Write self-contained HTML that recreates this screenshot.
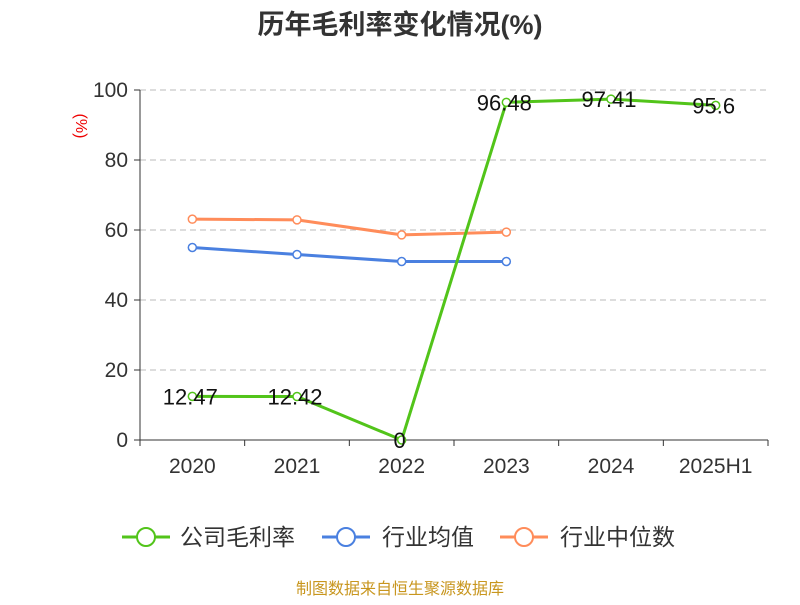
<!DOCTYPE html>
<html><head><meta charset="utf-8"><style>
body{margin:0;background:#fff;font-family:"Liberation Sans","Noto Sans CJK SC",sans-serif;}
</style></head><body>
<svg id="chart" width="800" height="600" xmlns="http://www.w3.org/2000/svg" font-family="Liberation Sans, Noto Sans CJK SC, sans-serif">
<text x="400" y="34" text-anchor="middle" font-size="27" font-weight="bold" fill="#333">历年毛利率变化情况(%)</text>
<text x="76" y="126" font-size="16" fill="#e00" transform="rotate(90 76 126)" text-anchor="middle">(%)</text>
<g id="grid"></g><g id="axes"></g><g id="series"></g>
<g>
<g><line x1="122" y1="537" x2="170" y2="537" stroke="#52c41a" stroke-width="3"/><circle cx="146" cy="537" r="9" fill="#fff" stroke="#52c41a" stroke-width="2"/><text x="180" y="545" font-size="23" fill="#333">公司毛利率</text></g>
<g><line x1="322" y1="537" x2="370" y2="537" stroke="#4a80e0" stroke-width="3"/><circle cx="346" cy="537" r="9" fill="#fff" stroke="#4a80e0" stroke-width="2"/><text x="382" y="545" font-size="23" fill="#333">行业均值</text></g>
<g><line x1="500" y1="537" x2="548" y2="537" stroke="#ff8c5a" stroke-width="3"/><circle cx="524" cy="537" r="9" fill="#fff" stroke="#ff8c5a" stroke-width="2"/><text x="560" y="545" font-size="23" fill="#333">行业中位数</text></g>
</g>
<text x="400" y="594" text-anchor="middle" font-size="16" fill="#c8961e">制图数据来自恒生聚源数据库</text>
</svg>
<script>
const categories=["2020","2021","2022","2023","2024","2025H1"];
const company=[12.47,12.42,0,96.48,97.41,95.6];
const companyLabels=["12.47","12.42","0","96.48","97.41","95.6"];
const industryAvg=[55,53,51,51];
const industryMedian=[63.1,62.9,58.6,59.4];
const yTicks=[0,20,40,60,80,100];
const NS="http://www.w3.org/2000/svg";
const x0=140,x1=768,yb=440,yt=90;
const bw=(x1-x0)/categories.length;
const xs=i=>x0+bw*(i+0.5);
const ys=v=>yb-(v/100)*(yb-yt);
function mk(tag,attrs,parent){const e=document.createElementNS(NS,tag);for(const k in attrs)e.setAttribute(k,attrs[k]);document.getElementById(parent).appendChild(e);return e;}
yTicks.forEach(t=>{
 if(t>0){const g=mk('line',{x1:x0,x2:x1,y1:ys(t),y2:ys(t),stroke:'#bbb','stroke-dasharray':'6,4'},'grid');
 
 }
 const tk=mk('line',{x1:x0-6,x2:x0,y1:ys(t),y2:ys(t),stroke:'#333'},'axes');
 
 
 const l=mk('text',{x:x0-12,y:ys(t)+7,'text-anchor':'end','font-size':21,fill:'#333'},'axes');l.textContent=t;
 
 
});
const ya=mk('line',{x1:x0,x2:x0,y1:yt,y2:yb,stroke:'#333'},'axes');


const xa=mk('line',{x1:x0,x2:x1,y1:yb,y2:yb,stroke:'#333'},'axes');


for(let i=0;i<=categories.length;i++){const t=mk('line',{x1:x0+bw*i,x2:x0+bw*i,y1:yb,y2:yb+6,stroke:'#333'},'axes');
 
 }
categories.forEach((c,i)=>{const l=mk('text',{x:xs(i),y:473,'text-anchor':'middle','font-size':21,fill:'#333'},'axes');l.textContent=c;
 
 });
function series(vals,color,name,labels){
 const pl=mk('polyline',{points:vals.map((v,i)=>xs(i)+','+ys(v)).join(' '),fill:'none',stroke:color,'stroke-width':3},'series');
 
 
 vals.forEach((v,i)=>{const c=mk('circle',{cx:xs(i),cy:ys(v),r:4,fill:'#fff',stroke:color,'stroke-width':1.5},'series');
  
  
  if(labels){const t=mk('text',{x:xs(i)-2,y:ys(v)+8,'text-anchor':'middle','font-size':22,fill:'#111'},'series');t.textContent=labels[i];
   
   }
 });
}
series(industryMedian,'#ff8c5a','industry-median');
series(industryAvg,'#4a80e0','industry-avg');
series(company,'#52c41a','company',companyLabels);
</script>
</body></html>
